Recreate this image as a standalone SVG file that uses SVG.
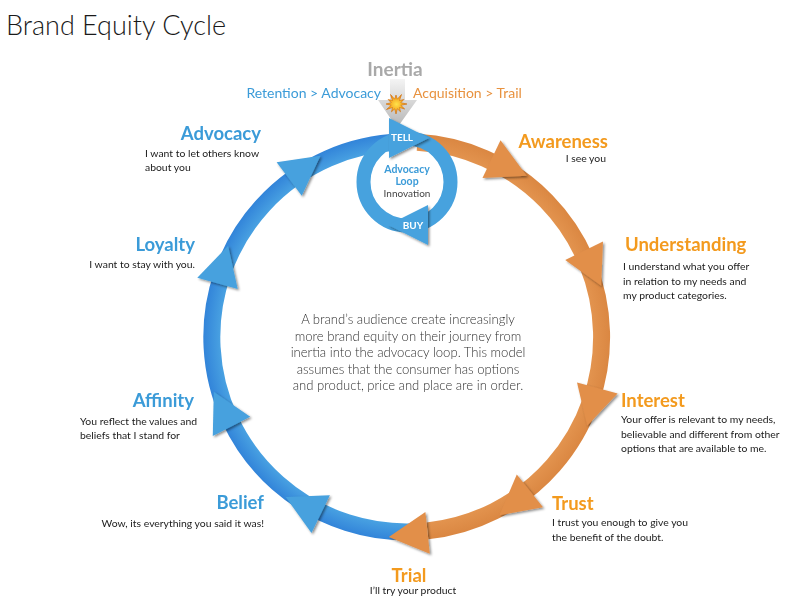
<svg xmlns="http://www.w3.org/2000/svg" width="795" height="613" viewBox="0 0 795 613">
<defs>
<style>
text{font-family:Lato,"Open Sans","Liberation Sans",sans-serif}
.ttl{font-size:27px;font-weight:300;fill:#1a1a1a}
.hb{font-size:18.5px;font-weight:700;fill:#3b9bd8}
.ho{font-size:18.5px;font-weight:700;fill:#f39a1e}
.d{font-size:10.4px;fill:#1a1a1a}
.c{font-size:13.1px;font-weight:300;fill:#333;text-anchor:middle}
.ab{fill:#46a1de}
.ao{fill:#e28f4a}
</style>
<radialGradient id="gb" gradientUnits="userSpaceOnUse" cx="407" cy="337" r="206">
<stop offset="0.9" stop-color="#4aa3e2"/><stop offset="1" stop-color="#2f80d8"/>
</radialGradient>
<radialGradient id="go" gradientUnits="userSpaceOnUse" cx="407" cy="337" r="206">
<stop offset="0.9" stop-color="#e3944f"/><stop offset="1" stop-color="#d98540"/>
</radialGradient>
<linearGradient id="gi" x1="0" y1="0" x2="0" y2="1">
<stop offset="0" stop-color="#f4f4f4"/><stop offset="1" stop-color="#b5b5b5"/>
</linearGradient>
<radialGradient id="gs" cx="0.5" cy="0.5" r="0.5">
<stop offset="0" stop-color="#ffe34a"/><stop offset="1" stop-color="#f08a10"/>
</radialGradient>
<filter id="sh" x="-30%" y="-30%" width="160%" height="160%">
<feDropShadow dx="1.5" dy="1.5" stdDeviation="1.2" flood-color="#000" flood-opacity="0.45"/>
</filter>
<polygon id="ah" points="0,-21 0,21 39,0"/>
</defs>
<rect width="795" height="613" fill="#fff"/>
<text class="ttl" x="6" y="35">Brand Equity Cycle</text>

<g id="connectors">
<path d="M 420.6 531.5 A 195 195 0 1 1 400.2 142.1" fill="none" stroke="url(#gb)" stroke-width="17"/>
<path d="M 417.2 142.3 A 195 195 0 0 1 427.4 530.9" fill="none" stroke="url(#go)" stroke-width="17"/>
<g filter="url(#sh)">
<use href="#ah" class="ao" transform="translate(491.5,159.1) rotate(25.4)"/>
<use href="#ah" class="ao" transform="translate(584.1,250.7) rotate(64)"/>
<use href="#ah" class="ao" transform="translate(597.3,388) rotate(105)"/>
<use href="#ah" class="ao" transform="translate(529.9,490.9) rotate(141.4)"/>
<use href="#ah" class="ao" transform="translate(427.6,532.9) rotate(174)"/>
<use href="#ah" class="ab" transform="translate(320.7,514.1) rotate(206)"/>
<use href="#ah" class="ab" transform="translate(231.5,426.4) rotate(243)"/>
<use href="#ah" class="ab" transform="translate(217.5,283.4) rotate(285.8)"/>
<use href="#ah" class="ab" transform="translate(289.2,179) rotate(323.3)"/>
</g>
</g>

<g id="inertia">
<text x="395" y="76" text-anchor="middle" style="font-size:19px;font-weight:700;fill:#a9a9a9">Inertia</text>
<polygon points="390,79 405,79 405,100 417,100 397,128 378,100 390,100" fill="url(#gi)"/>
<polygon points="407,104 400.8,105.3 404.7,109 399.5,107.5 400.5,111.8 397.3,108.8 396,114 394.7,108.8 391.5,111.8 392.5,107.5 386.5,109.5 391.2,105.3 386,104 391.2,102.7 388.2,99.5 392.5,100.5 390.5,94.5 394.7,99.2 396,95 397.3,99.2 401.5,94.5 399.5,100.5 403.8,99.5 400.8,102.7" fill="url(#gs)" stroke="#d06a00" stroke-width="0.6"/>
<text x="381" y="98" text-anchor="end" style="font-size:14px;fill:#3b9bd8">Retention &gt; Advocacy</text>
<text x="413" y="98" style="font-size:14px;fill:#e8923f">Acquisition &gt; Trail</text>
</g>

<g id="advocacy-loop">
<circle cx="407" cy="182" r="43.5" fill="none" stroke="#47a2de" stroke-width="14"/>
<g filter="url(#sh)">
<polygon points="389,118 389,158 429,138" fill="#47a2de"/>
<polygon points="428,205 428,245 388,225" fill="#47a2de"/>
</g>
<text x="402" y="141" text-anchor="middle" style="font-size:10px;font-weight:700;fill:#fff">TELL</text>
<text x="413" y="229" text-anchor="middle" style="font-size:10px;font-weight:700;fill:#fff">BUY</text>
<text x="407" y="173" text-anchor="middle" style="font-size:10.5px;font-weight:700;fill:#3b9bd8">Advocacy</text>
<text x="407" y="185" text-anchor="middle" style="font-size:10.5px;font-weight:700;fill:#3b9bd8">Loop</text>
<text x="407" y="197" text-anchor="middle" style="font-size:10px;fill:#444">Innovation</text>
</g>

<g id="awareness">
<text class="ho" x="608" y="148" text-anchor="end">Awareness</text>
<text class="d" x="606" y="162" text-anchor="end">I see you</text>
</g>
<g id="understanding">
<text class="ho" x="625" y="251">Understanding</text>
<text class="d" x="623" y="270">I understand what you offer</text>
<text class="d" x="623" y="285">in relation to my needs and</text>
<text class="d" x="623" y="299">my product categories.</text>
</g>
<g id="interest">
<text class="ho" x="621" y="407">Interest</text>
<text class="d" x="621" y="423">Your offer is relevant to my needs,</text>
<text class="d" x="621" y="438">believable and different from other</text>
<text class="d" x="621" y="452">options that are available to me.</text>
</g>
<g id="trust">
<text class="ho" x="552" y="510">Trust</text>
<text class="d" x="552" y="526">I trust you enough to give you</text>
<text class="d" x="552" y="541">the benefit of the doubt.</text>
</g>
<g id="trial">
<text class="ho" x="409" y="582" text-anchor="middle">Trial</text>
<text class="d" x="413" y="594" text-anchor="middle">I’ll try your product</text>
</g>
<g id="belief">
<text class="hb" x="264" y="509" text-anchor="end">Belief</text>
<text class="d" x="264" y="527" text-anchor="end">Wow, its everything you said it was!</text>
</g>
<g id="affinity">
<text class="hb" x="194" y="407" text-anchor="end">Affinity</text>
<text class="d" x="80" y="425">You reflect the values and</text>
<text class="d" x="80" y="439">beliefs that I stand for</text>
</g>
<g id="loyalty">
<text class="hb" x="195" y="251" text-anchor="end">Loyalty</text>
<text class="d" x="195" y="268" text-anchor="end">I want to stay with you.</text>
</g>
<g id="advocacy">
<text class="hb" x="261" y="140" text-anchor="end">Advocacy</text>
<text class="d" x="145" y="157">I want to let others know</text>
<text class="d" x="145" y="171">about you</text>
</g>

<g id="description">
<text class="c" x="408" y="324">A brand’s audience create increasingly</text>
<text class="c" x="408" y="341">more brand equity on their journey from</text>
<text class="c" x="408" y="357">inertia into the advocacy loop. This model</text>
<text class="c" x="408" y="374">assumes that the consumer has options</text>
<text class="c" x="408" y="390">and product, price and place are in order.</text>
</g>
</svg>
